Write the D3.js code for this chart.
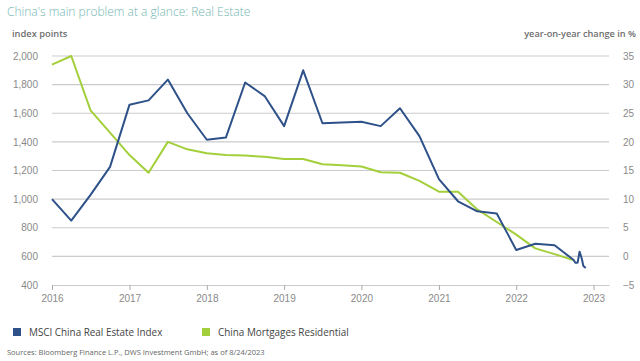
<!DOCTYPE html>
<html>
<head>
<meta charset="utf-8">
<script src="https://cdn.jsdelivr.net/npm/d3@7"></script>
<style>
  body { margin: 0; background: #fff; }
  svg { display: block; font-family: "Open Sans", "DejaVu Sans", sans-serif; }
</style>
</head>
<body>
<svg id="chart" width="640" height="361"></svg>
<script>
// ---- data ----
const msciDates = ["2016-01-01","2016-04-01","2016-07-01","2016-10-01","2017-01-01","2017-04-01","2017-07-01","2017-10-01",
  "2018-01-01","2018-04-01","2018-07-01","2018-10-01","2019-01-01","2019-04-01","2019-07-01","2019-10-01",
  "2020-01-01","2020-04-01","2020-07-01","2020-10-01","2021-01-01","2021-04-01","2021-07-01","2021-10-01",
  "2022-01-01","2022-04-01","2022-07-01","2022-09-29","2022-10-07","2022-10-18","2022-10-27","2022-11-06","2022-11-14","2022-11-25"];
const msciValues = [1000, 850, 1030, 1225, 1660, 1690, 1835, 1600,
  1415, 1430, 1815, 1720, 1510, 1900, 1530, 1535,
  1540, 1510, 1635, 1440, 1140, 985, 915, 900,
  645, 688, 678, 575, 556, 556, 633, 587, 533, 519];

const mortDates = ["2016-01-01","2016-04-01","2016-07-01","2016-10-01","2017-01-01","2017-04-01","2017-07-01","2017-10-01",
  "2018-01-01","2018-04-01","2018-07-01","2018-10-01","2019-01-01","2019-04-01","2019-07-01","2019-10-01",
  "2020-01-01","2020-04-01","2020-07-01","2020-10-01","2021-01-01","2021-04-01","2021-07-01","2021-10-01",
  "2022-01-01","2022-04-01","2022-07-01","2022-10-01"];
const mortValues = [33.5, 35, 25.5, 21.6, 17.7, 14.6, 20, 18.7,
  18, 17.7, 17.6, 17.4, 17, 17, 16.1, 15.9,
  15.7, 14.7, 14.6, 13.2, 11.3, 11.3, 8.2, 6,
  3.8, 1.4, 0.4, -0.7];

const leftTicks = [400, 600, 800, 1000, 1200, 1400, 1600, 1800, 2000];
const rightTicks = [-5, 0, 5, 10, 15, 20, 25, 30, 35];
const yearTicks = ["2016","2017","2018","2019","2020","2021","2022","2023"];

const titleText = "China's main problem at a glance: Real Estate";
const leftAxisTitle = "index points";
const rightAxisTitle = "year-on-year change in %";
const seriesNames = ["MSCI China Real Estate Index", "China Mortgages Residential"];
const sourceText = "Sources: Bloomberg Finance L.P., DWS Investment GmbH; as of 8/24/2023";

// ---- drawing ----
const svg = d3.select("#chart");
const W = 640, H = 361;
const m = { left: 52, right: 31, top: 56, bottom: 76 };
const blue = "#2e5189", green = "#a2cf3a", grid = "#cbcbcb", label = "#8a8a8a";
const parse = d3.timeParse("%Y-%m-%d");

const x = d3.scaleTime()
  .domain([parse("2016-01-01"), parse("2023-03-15")])
  .range([m.left, W - m.right]);
const yL = d3.scaleLinear().domain([400, 2000]).range([H - m.bottom, m.top]);
const yR = d3.scaleLinear().domain([-5, 35]).range([H - m.bottom, m.top]);

// gridlines
svg.append("g").selectAll("line").data(leftTicks.slice(1)).join("line")
  .attr("x1", m.left).attr("x2", W - m.right)
  .attr("y1", d => yL(d)).attr("y2", d => yL(d))
  .attr("stroke", grid).attr("stroke-width", 1.2);

// x axis
const xAxis = d3.axisBottom(x)
  .tickValues(yearTicks.map(y => parse(y + "-01-01")))
  .tickFormat(d3.timeFormat("%Y"))
  .tickSizeInner(5).tickSizeOuter(0).tickPadding(5);
const gx = svg.append("g").attr("transform", `translate(0,${H - m.bottom})`).call(xAxis);
gx.select(".domain").attr("stroke", grid).attr("stroke-width", 1.2);
gx.selectAll(".tick line").attr("stroke", "#aaa");
gx.selectAll(".tick text").attr("fill", label).style("font-size", "10px");

// left axis
const gl = svg.append("g").attr("transform", `translate(${m.left},0)`)
  .call(d3.axisLeft(yL).tickValues(leftTicks).tickFormat(d3.format(",")).tickSize(0).tickPadding(14));
gl.select(".domain").remove();
gl.selectAll(".tick text").attr("fill", label).style("font-size", "10px");

// right axis
const gr = svg.append("g").attr("transform", `translate(${W - m.right},0)`)
  .call(d3.axisRight(yR).tickValues(rightTicks).tickSize(0).tickPadding(14));
gr.select(".domain").remove();
gr.selectAll(".tick text").attr("fill", label).style("font-size", "10px");

// lines
const lineL = d3.line().x(d => x(d[0])).y(d => yL(d[1]));
const lineR = d3.line().x(d => x(d[0])).y(d => yR(d[1]));
svg.append("path").datum(mortDates.map((d, i) => [parse(d), mortValues[i]]))
  .attr("d", lineR).attr("fill", "none").attr("stroke", green).attr("stroke-width", 2).attr("stroke-linejoin", "round");
svg.append("path").datum(msciDates.map((d, i) => [parse(d), msciValues[i]]))
  .attr("d", lineL).attr("fill", "none").attr("stroke", blue).attr("stroke-width", 2).attr("stroke-linejoin", "round");

// title & axis titles
svg.append("text").attr("x", 7).attr("y", 16).text(titleText)
  .attr("fill", "#72b6b1").style("font-size", "12px").style("font-weight", 300);
svg.append("text").attr("x", 12).attr("y", 37).text(leftAxisTitle)
  .attr("fill", "#6e6e6e").style("font-size", "9.3px").style("font-weight", 600);
svg.append("text").attr("x", 636).attr("y", 37).attr("text-anchor", "end").text(rightAxisTitle)
  .attr("fill", "#6e6e6e").style("font-size", "9.2px").style("font-weight", 600);

// legend
const legend = svg.append("g");
const lg = [{ name: seriesNames[0], c: blue, x: 13 }, { name: seriesNames[1], c: green, x: 202 }];
lg.forEach(d => {
  legend.append("rect").attr("x", d.x).attr("y", 328).attr("width", 8).attr("height", 8).attr("fill", d.c);
  legend.append("text").attr("x", d.x + 16).attr("y", 336).text(d.name)
    .attr("fill", "#444").style("font-size", "9.9px");
});

// source
svg.append("text").attr("x", 7).attr("y", 355).text(sourceText)
  .attr("fill", "#666").style("font-size", "7.5px");
</script>
</body>
</html>
